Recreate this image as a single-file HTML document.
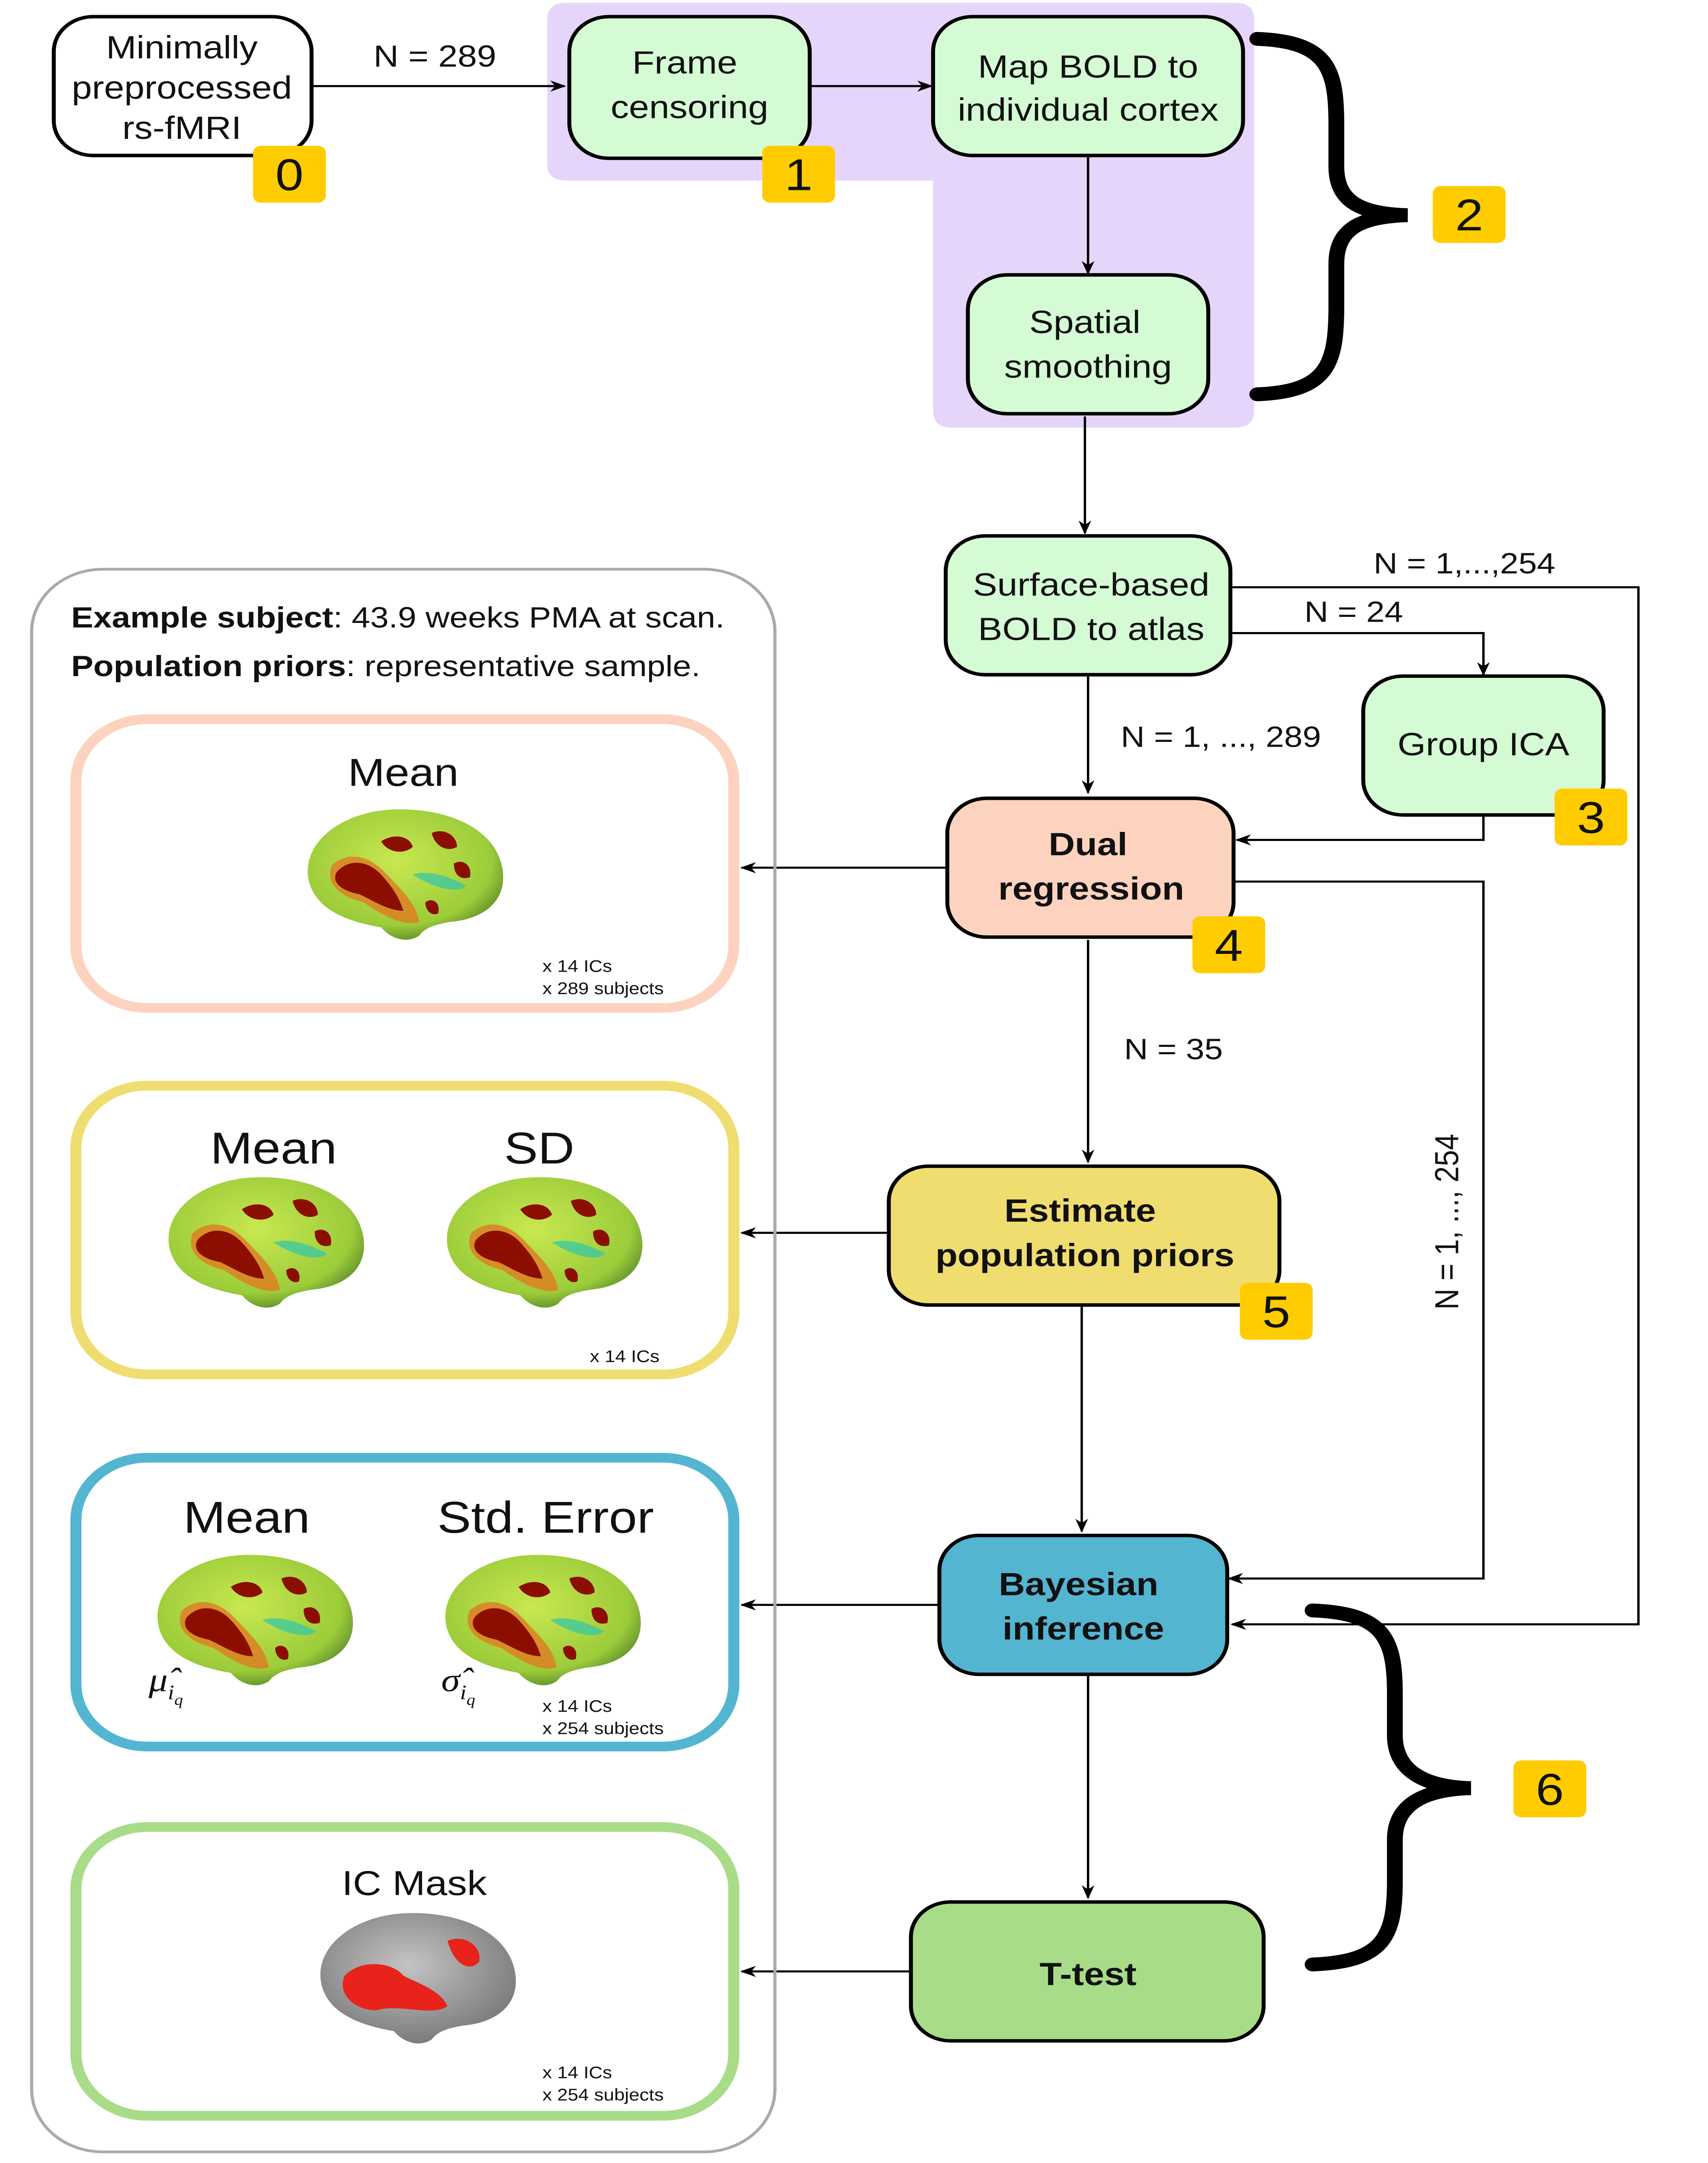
<!DOCTYPE html>
<html><head><meta charset="utf-8"><style>
html,body{margin:0;padding:0;background:#fff;width:100%;height:100%;overflow:hidden;}
svg{display:block;position:fixed;left:0;top:0;width:100vw;height:100vh;}
text{font-family:"Liberation Sans","DejaVu Sans",sans-serif;fill:#111;}
</style></head><body>
<svg viewBox="0 0 1080 1558" preserveAspectRatio="none" xmlns="http://www.w3.org/2000/svg">
<defs>
<marker id="ah" markerWidth="10" markerHeight="8" refX="9" refY="4" orient="auto" markerUnits="userSpaceOnUse"><path d="M0,0 L10,4 L0,8 L3,4 Z" fill="#000"/></marker>
<radialGradient id="gb" cx="0.45" cy="0.4" r="0.7"><stop offset="0" stop-color="#c8e850"/><stop offset="0.7" stop-color="#9ccc3a"/><stop offset="1" stop-color="#3d6a22"/></radialGradient>
<radialGradient id="gg" cx="0.45" cy="0.4" r="0.7"><stop offset="0" stop-color="#c4c4c4"/><stop offset="1" stop-color="#707070"/></radialGradient>
<g id="brain"><path d="M-60,5 C-64,-22 -38,-44 -5,-45 C30,-46 60,-30 63,0 C65,22 50,34 30,36 C20,38 14,40 10,46 C2,52 -8,48 -14,40 C-34,36 -56,28 -60,5 Z" fill="url(#gb)"/>
<path d="M-45,-5 C-35,-15 -22,-12 -12,0 C-2,12 8,22 10,36 C0,40 -15,30 -25,22 C-40,18 -50,8 -45,-5 Z" fill="#e07a20" opacity="0.8"/>
<path d="M-42,0 C-34,-10 -22,-8 -14,2 C-6,12 -2,20 0,28 C-10,28 -20,20 -28,16 C-38,14 -46,8 -42,0 Z M-14,-22 C-6,-28 4,-26 6,-18 C0,-12 -10,-14 -14,-22 Z M18,-28 C26,-32 34,-26 34,-18 C28,-14 20,-18 18,-28 Z M32,-6 C38,-10 44,-4 42,4 C36,6 32,2 32,-6 Z M14,22 C18,18 24,22 22,30 C18,32 14,28 14,22 Z" fill="#8b0e00"/>
<path d="M6,2 C16,-2 30,4 40,10 C34,16 20,12 6,2 Z" fill="#3fc8a0" opacity="0.8"/></g>
<g id="brainM"><path d="M-60,5 C-64,-22 -38,-44 -5,-45 C30,-46 60,-30 63,0 C65,22 50,34 30,36 C20,38 14,40 10,46 C2,52 -8,48 -14,40 C-34,36 -56,28 -60,5 Z" fill="url(#gg)"/>
<path d="M-45,0 C-35,-12 -15,-10 -8,0 C0,5 15,10 20,22 C10,30 -10,20 -25,25 C-40,25 -50,12 -45,0 Z M20,-25 C30,-30 42,-22 40,-10 C34,-2 24,-8 20,-25 Z" fill="#e8231b"/></g>
</defs>

<path d="M358,2 H781 Q793,2 793,14 V296 Q793,308 781,308 H602 Q590,308 590,296 V130 H358 Q346,130 346,118 V14 Q346,2 358,2 Z" fill="#E5D5FA"/>

<g stroke="#000" stroke-width="1.5" fill="none">
<line x1="197" y1="62" x2="357" y2="62" marker-end="url(#ah)"/>
<line x1="512" y1="62" x2="589" y2="62" marker-end="url(#ah)"/>
<line x1="688" y1="113" x2="688" y2="197" marker-end="url(#ah)"/>
<line x1="686" y1="300" x2="686" y2="384" marker-end="url(#ah)"/>
<polyline points="778,423 1036,423 1036,1170 779,1170" marker-end="url(#ah)"/>
<polyline points="778,456 938,456 938,486" marker-end="url(#ah)"/>
<polyline points="938,587 938,605 782,605" marker-end="url(#ah)"/>
<line x1="688" y1="487" x2="688" y2="571" marker-end="url(#ah)"/>
<polyline points="780,635 938,635 938,1137 777,1137" marker-end="url(#ah)"/>
<line x1="688" y1="677" x2="688" y2="837" marker-end="url(#ah)"/>
<line x1="684" y1="940" x2="684" y2="1103" marker-end="url(#ah)"/>
<line x1="688" y1="1207" x2="688" y2="1367" marker-end="url(#ah)"/>
<line x1="598" y1="625" x2="469" y2="625" marker-end="url(#ah)"/>
<line x1="562" y1="888" x2="469" y2="888" marker-end="url(#ah)"/>
<line x1="594" y1="1156" x2="469" y2="1156" marker-end="url(#ah)"/>
<line x1="576" y1="1420" x2="469" y2="1420" marker-end="url(#ah)"/>
</g>

<g font-size="22" text-anchor="middle">
<text x="275" y="48">N = 289</text>
<text x="926" y="413" font-size="21">N = 1,...,254</text>
<text x="856" y="448" font-size="21">N = 24</text>
<text x="772" y="538" font-size="21">N = 1, ..., 289</text>
<text x="742" y="763" font-size="21">N = 35</text>
<text x="0" y="0" font-size="21" transform="translate(922,880) rotate(-90)">N = 1, ..., 254</text>
</g>

<g stroke="#000" stroke-width="2.5">
<rect x="34" y="12" width="163" height="100" rx="25" fill="#fff"/>
<rect x="360" y="12" width="152" height="102" rx="25" fill="#D5FBD5"/>
<rect x="590" y="12" width="196" height="100" rx="25" fill="#D5FBD5"/>
<rect x="612" y="198" width="152" height="100" rx="25" fill="#D5FBD5"/>
<rect x="598" y="386" width="180" height="100" rx="25" fill="#D5FBD5"/>
<rect x="862" y="487" width="152" height="100" rx="25" fill="#D5FBD5"/>
<rect x="599" y="575" width="181" height="100" rx="25" fill="#FDD3BF"/>
<rect x="562" y="840" width="247" height="100" rx="25" fill="#F0DD70"/>
<rect x="594" y="1106" width="182" height="100" rx="25" fill="#54B5D1"/>
<rect x="576" y="1370" width="223" height="100" rx="25" fill="#A8DC88"/>
</g>
<g font-size="23" text-anchor="middle">
<text x="115" y="42">Minimally</text><text x="115" y="71">preprocessed</text><text x="115" y="100">rs-fMRI</text>
<text x="433" y="53">Frame</text><text x="436" y="85">censoring</text>
<text x="688" y="56">Map BOLD to</text><text x="688" y="87">individual cortex</text>
<text x="686" y="240">Spatial</text><text x="688" y="272">smoothing</text>
<text x="690" y="429">Surface-based</text><text x="690" y="461">BOLD to atlas</text>
<text x="938" y="544">Group ICA</text>
<g font-weight="bold">
<text x="688" y="616">Dual</text><text x="690" y="648">regression</text>
<text x="683" y="880">Estimate</text><text x="686" y="912">population priors</text>
<text x="682" y="1149">Bayesian</text><text x="685" y="1181">inference</text>
<text x="688" y="1430">T-test</text>
</g></g>

<g fill="#FFCC00">
<rect x="160" y="105" width="46" height="41" rx="5"/>
<rect x="482" y="105" width="46" height="41" rx="5"/>
<rect x="906" y="134" width="46" height="41" rx="5"/>
<rect x="983" y="568" width="46" height="41" rx="5"/>
<rect x="754" y="660" width="46" height="41" rx="5"/>
<rect x="784" y="924" width="46" height="41" rx="5"/>
<rect x="957" y="1268" width="46" height="41" rx="5"/>
</g>
<g font-size="32" text-anchor="middle">
<text x="183" y="137">0</text><text x="505" y="137">1</text><text x="929" y="166">2</text>
<text x="1006" y="600">3</text><text x="777" y="692">4</text><text x="807" y="956">5</text><text x="980" y="1300">6</text>
</g>

<g fill="none" stroke="#000" stroke-width="10" stroke-linecap="round">
<path d="M795,28 C840,30 845,50 845,90 V120 C845,145 860,154 890,155 C860,156 845,165 845,190 V220 C845,262 840,282 795,284"/>
<path d="M830,1160 C875,1162 882,1180 882,1220 V1250 C882,1275 900,1287 930,1288 C900,1289 882,1300 882,1325 V1355 C882,1395 875,1413 830,1415"/>
</g>

<rect x="20" y="410" width="470" height="1140" rx="45" fill="none" stroke="#aaa" stroke-width="2"/>
<text x="45" y="452" font-size="21"><tspan font-weight="bold">Example subject</tspan>: 43.9 weeks PMA at scan.</text>
<text x="45" y="487" font-size="21"><tspan font-weight="bold">Population priors</tspan>: representative sample.</text>

<g fill="#fff" stroke-width="7">
<rect x="48" y="518" width="416" height="208" rx="45" stroke="#FDD3BF"/>
<rect x="48" y="782" width="416" height="208" rx="45" stroke="#F0DD70"/>
<rect x="48" y="1050" width="416" height="208" rx="45" stroke="#54B5D1"/>
<rect x="48" y="1316" width="416" height="208" rx="45" stroke="#A8DC88"/>
</g>
<use href="#brain" transform="translate(255,628)"/>
<use href="#brain" transform="translate(167,893)"/>
<use href="#brain" transform="translate(343,893)"/>
<use href="#brain" transform="translate(160,1165)"/>
<use href="#brain" transform="translate(342,1165)"/>
<use href="#brainM" transform="translate(263,1423)"/>
<g text-anchor="middle">
<text x="255" y="566" font-size="28">Mean</text>
<text x="173" y="838" font-size="32">Mean</text><text x="341" y="838" font-size="32">SD</text>
<text x="156" y="1104" font-size="32">Mean</text><text x="345" y="1104" font-size="32">Std. Error</text>
<text x="262" y="1365" font-size="25">IC Mask</text>
</g>
<g font-style="italic" font-size="24">
<text x="94" y="1218" style="font-family:'Liberation Serif',serif">μ̂<tspan font-size="15" dy="6">i</tspan><tspan font-size="11" dy="4">q</tspan></text>
<text x="279" y="1218" style="font-family:'Liberation Serif',serif">σ̂<tspan font-size="15" dy="6">i</tspan><tspan font-size="11" dy="4">q</tspan></text>
</g>
<g font-size="12">
<text x="343" y="700">x 14 ICs</text><text x="343" y="716">x 289 subjects</text>
<text x="373" y="981">x 14 ICs</text>
<text x="343" y="1233">x 14 ICs</text><text x="343" y="1249">x 254 subjects</text>
<text x="343" y="1497">x 14 ICs</text><text x="343" y="1513">x 254 subjects</text>
</g>
</svg>
</body></html>
